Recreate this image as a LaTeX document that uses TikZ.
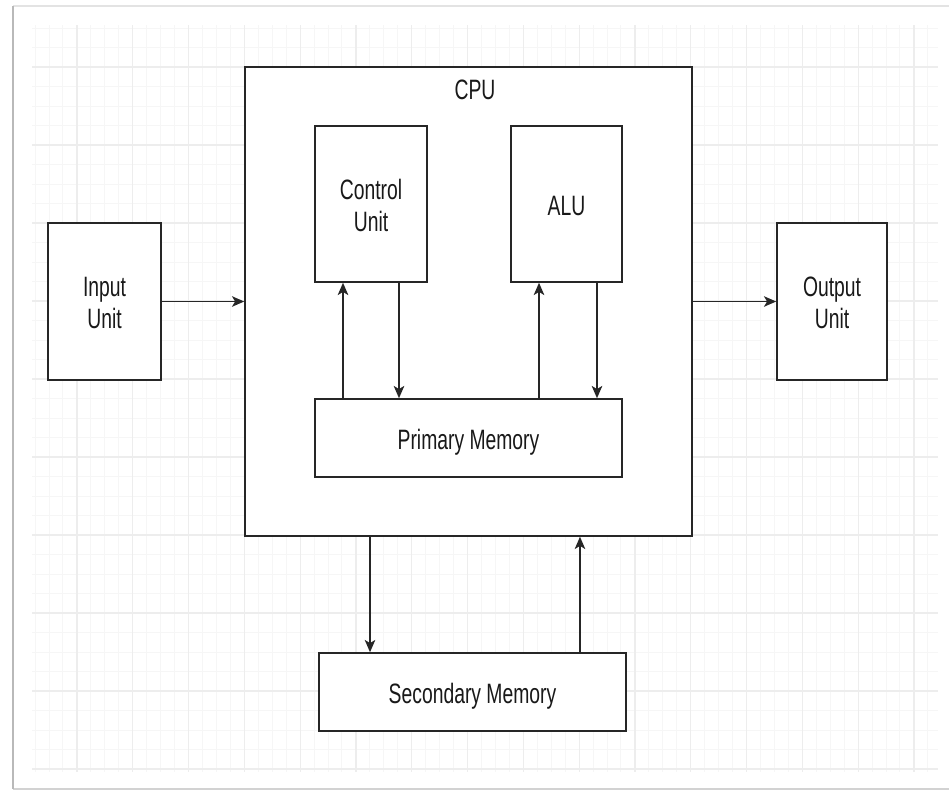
\documentclass[tikz,border=0pt]{standalone}
\usepackage{fontspec}
\setmainfont{Liberation Sans}
\usepackage{graphicx}
\usetikzlibrary{arrows.meta}
\newcommand{\boxtext}[1]{\raisebox{-2.8pt}[\height][\depth]{\scalebox{1}[1.45]{\begin{tabular}{@{}c@{}}#1\end{tabular}}}}

\begin{document}
\begin{tikzpicture}[x=0.02cm,y=-0.02cm,
  unit/.style={draw=black!85,line width=0.9pt,fill=white,inner sep=0pt,
    font=\fontsize{11}{12.4}\selectfont,text=black!90},
  arr/.style={draw=black!85,line width=0.9pt,-{Stealth[length=7pt,width=6pt,inset=1.8pt]}},
  minorgrid/.style={draw=gray!7,line width=0.5pt},
  majorgrid/.style={draw=gray!14,line width=0.6pt}]
  \useasboundingbox (0,0) rectangle (949,791);
  \foreach \i in {0,...,64} \draw[minorgrid]({35+13.95*\i},25)--++(0,747);
  \foreach \j in {0,...,38} \draw[minorgrid](32,{28+19.5*\j})--(938,{28+19.5*\j});
  \foreach \i in {0,...,15} \draw[majorgrid]({77+55.8*\i},25)--++(0,747);
  \foreach \j in {0,...,9} \draw[majorgrid](32,{67+78*\j})--(938,{67+78*\j});
  \draw[gray!22,line width=1.2pt](13,6)--(949,6);
  \draw[gray!35,line width=1.2pt](13,789)--(949,789);
  \draw[gray!55,line width=1.6pt](13,6)--(13,789);

  \node[unit,minimum width=8.94cm,minimum height=9.38cm](cpu) at (468.5,301.5){};
  \node[font=\fontsize{11}{12.4}\selectfont,text=black!90](cpulbl) at (475,88){\boxtext{CPU}};
  \node[unit,minimum width=2.26cm,minimum height=3.14cm](inp) at (104.5,301.5){\boxtext{Input\\Unit}};
  \node[unit,minimum width=2.2cm,minimum height=3.14cm](out) at (832,301.5){\boxtext{Output\\Unit}};
  \node[unit,minimum width=2.24cm,minimum height=3.12cm](cu) at (371,204){\boxtext{Control\\Unit}};
  \node[unit,minimum width=2.22cm,minimum height=3.12cm](alu) at (566.5,204){\boxtext{ALU}};
  \node[unit,minimum width=6.14cm,minimum height=1.56cm](pm) at (468.5,438){\boxtext{Primary Memory}};
  \node[unit,minimum width=6.14cm,minimum height=1.56cm](sec) at (472.5,692){\boxtext{Secondary Memory}};

  \draw[arr](inp.east)--(cpu.west);
  \draw[arr](cpu.east)--(out.west);
  \draw[arr]([xshift=-0.56cm]cu.south |- pm.north)--([xshift=-0.56cm]cu.south);
  \draw[arr]([xshift=0.56cm]cu.south)--([xshift=0.56cm]cu.south |- pm.north);
  \draw[arr]([xshift=-0.55cm]alu.south |- pm.north)--([xshift=-0.55cm]alu.south);
  \draw[arr]([xshift=0.61cm]alu.south)--([xshift=0.61cm]alu.south |- pm.north);
  \draw[arr]([xshift=-2.05cm]sec.north |- cpu.south)--([xshift=-2.05cm]sec.north);
  \draw[arr]([xshift=2.15cm]sec.north)--([xshift=2.15cm]sec.north |- cpu.south);
\end{tikzpicture}
\end{document}
